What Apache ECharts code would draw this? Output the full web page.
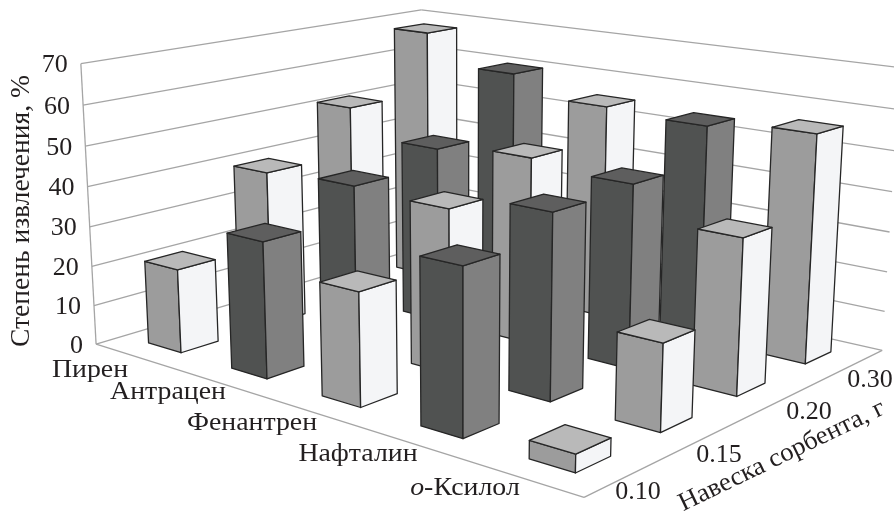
<!DOCTYPE html>
<html><head><meta charset="utf-8">
<style>html,body{margin:0;background:#fff}#c{width:894px;height:517px}</style>
<script src="https://cdn.jsdelivr.net/npm/echarts@6/dist/echarts.min.js"></script>
</head><body><div id="c"></div>
<script>
// Extraction degree (%) by compound and sorbent mass
const categories = ['Пирен', 'Антрацен', 'Фенантрен', 'Нафталин', 'о-Ксилол'];
const doses = ['0.10', '0.15', '0.20', '0.30'];
const valueTicks = [0, 10, 20, 30, 40, 50, 60, 70];
const pyrene = [21, 39.7, 51.8, 67.9];
const anthracene = [33.2, 40.9, 45, 60.1];
const phenanthrene = [27, 40.1, 47, 55.1];
const naphthalene = [38.4, 44.2, 45.1, 54.1];
const oXylene = [4.1, 20.3, 37.4, 56.2];
const rows = [pyrene, anthracene, phenanthrene, naphthalene, oXylene];

const valueTitle = 'Степень извлечения, %';
const doseTitle = 'Навеска сорбента, г';

// Camera: corners of the plot box (compound, dose, height) and where they land on the page
const boxCorners = [
  [0, 0, 0, 96, 346], [1, 0, 0, 584, 496], [1, 1, 0, 882, 352], [0, 1, 0, 423, 245],
  [0, 0, 1, 81, 63], [0, 1, 1, 421, 11], [1, 1, 1, 900, 67]
];
// Least-squares fit of the projective camera
function fitCamera() {
  const R = [];
  boxCorners.forEach(([X, Y, Z, x, y]) => {
    R.push([X, Y, Z, 1, 0, 0, 0, 0, -x * X, -x * Y, -x * Z, x]);
    R.push([0, 0, 0, 0, X, Y, Z, 1, -y * X, -y * Y, -y * Z, y]);
  });
  const n = 11, M = [];
  for (let a = 0; a < n; a++) {
    M[a] = [];
    for (let b = 0; b <= n; b++) {
      let s = 0;
      R.forEach(r => { s += r[a] * r[b]; });
      M[a][b] = s;
    }
  }
  for (let c = 0; c < n; c++) {
    let p = c;
    for (let r = c + 1; r < n; r++) if (Math.abs(M[r][c]) > Math.abs(M[p][c])) p = r;
    [M[c], M[p]] = [M[p], M[c]];
    for (let r = 0; r < n; r++) {
      if (r === c) continue;
      const f = M[r][c] / M[c][c];
      for (let k = c; k <= n; k++) M[r][k] -= f * M[c][k];
    }
  }
  return M.map((r, i) => r[n] / r[i]);
}
const P = fitCamera();
function proj(u, v, w) {
  const d = P[8] * u + P[9] * v + P[10] * w + 1;
  return [(P[0] * u + P[1] * v + P[2] * w + P[3]) / d, (P[4] * u + P[5] * v + P[6] * w + P[7]) / d];
}

const LIGHT = { l: '#9c9c9c', r: '#f4f5f7', t: '#b9b9b9' };
const DARK = { l: '#505251', r: '#808080', t: '#5e5e5e' };
const INK = '#231f20';
const FONT = '"Liberation Serif", serif';

// Painter's order: far compounds and far doses first
const barData = [];
rows.forEach((row, i) => {
  for (let j = doses.length - 1; j >= 0; j--) barData.push([i, j, row[j]]);
});

const categoryLabelPos = [[90, 370], [168, 392], [252, 423], [358, 454], [465, 488]];
const doseLabelPos = [[638, 492], [719, 455], [809, 412], [870, 380]];

function label(text, x, y, extra, size, align) {
  return Object.assign({
    type: 'text', x, y, scaleX: 1.07,
    style: { text, fontFamily: FONT, fontSize: size || 26, fill: INK, align: align || 'center', verticalAlign: 'middle' }
  }, extra);
}

const chart = echarts.init(document.getElementById('c'));
chart.setOption({
  animation: false,
  grid: { left: 0, right: 0, top: 0, bottom: 0, show: false },
  xAxis: { type: 'category', data: categories, show: false },
  yAxis: { type: 'value', min: 0, max: 70, show: false },
  series: [
    {
      // Back walls, floor edges and gridlines
      type: 'custom', coordinateSystem: 'none', silent: true, data: [[0]],
      renderItem() {
        const ch = [];
        const ln = (a, b) => ch.push({
          type: 'line', shape: { x1: a[0], y1: a[1], x2: b[0], y2: b[1] },
          style: { stroke: '#a5a5a5', lineWidth: 1.3 }
        });
        valueTicks.forEach(t => {
          const w = t / 70;
          ln(proj(0, 0, w), proj(0, 1, w));
          ln(proj(0, 1, w), proj(1, 1, w));
        });
        ln(proj(0, 0, 0), proj(0, 0, 1));
        ln(proj(0, 0, 0), proj(1, 0, 0));
        ln(proj(1, 0, 0), proj(1, 1, 0));
        return { type: 'group', children: ch };
      }
    },
    {
      // One box per compound and dose
      type: 'custom', silent: true, data: barData, encode: { x: 0, y: 2 },
      renderItem(p, api) {
        const W = api.getWidth(), H = api.getHeight();
        const i = api.value(0), j = api.value(1), val = api.value(2);
        const uc = api.coord([i, 0])[0] / W, band = api.size([1, 0])[0] / W;
        const w = 1 - api.coord([0, val])[1] / H;
        const u0 = uc - 0.2 * band, u1 = uc + 0.2 * band;
        const v0 = (j + 0.3) / doses.length, v1 = (j + 0.7) / doses.length;
        const c = i % 2 ? DARK : LIGHT;
        const poly = (pts, f) => ({
          type: 'polygon', z2: p.dataIndex, shape: { points: pts },
          style: { fill: f, stroke: '#262626', lineWidth: 1.3, lineJoin: 'round' }
        });
        return {
          type: 'group', children: [
            poly([proj(u0, v0, 0), proj(u1, v0, 0), proj(u1, v0, w), proj(u0, v0, w)], c.l),
            poly([proj(u1, v0, 0), proj(u1, v1, 0), proj(u1, v1, w), proj(u1, v0, w)], c.r),
            poly([proj(u0, v0, w), proj(u1, v0, w), proj(u1, v1, w), proj(u0, v1, w)], c.t)
          ]
        };
      }
    },
    {
      // Axis text
      type: 'custom', coordinateSystem: 'none', silent: true, data: [[0]],
      renderItem() {
        const ch = [];
        valueTicks.forEach(t => {
          const q = proj(0, 0, t / 70);
          ch.push(label(String(t), q[0] - 13, q[1] + 1.5, { scaleX: 1 }, 26, 'right'));
        });
        categories.forEach((c, i) => {
          const q = categoryLabelPos[i];
          if (c.startsWith('о-')) {
            ch.push(label('', q[0], q[1], {
              style: {
                text: '{i|о}-Ксилол', fontFamily: FONT, fontSize: 26, fill: INK, align: 'center', verticalAlign: 'middle',
                rich: { i: { fontFamily: FONT, fontSize: 26, fontStyle: 'italic', fill: INK } }
              }
            }));
          } else {
            ch.push(label(c, q[0], q[1]));
          }
        });
        doses.forEach((d, i) => ch.push(label(d, doseLabelPos[i][0], doseLabelPos[i][1], { scaleX: 1 })));
        ch.push(label(valueTitle, 22, 211, { rotation: Math.PI / 2, scaleX: 1.02 }, 27));
        ch.push(label(doseTitle, 782, 456, { rotation: 0.45, scaleX: 1.03 }, 26));
        return { type: 'group', children: ch };
      }
    }
  ]
});
</script></body></html>
